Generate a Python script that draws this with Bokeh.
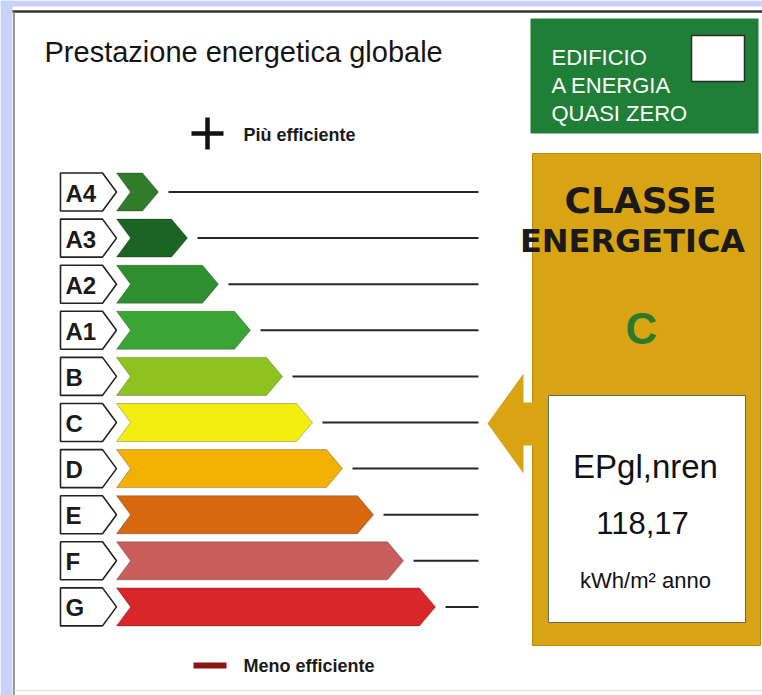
from bokeh.plotting import figure
from bokeh.models import Range1d
from bokeh.core.properties import value
from bokeh.embed import file_html
from bokeh.resources import INLINE

# ---- data ----
classes = ["A4", "A3", "A2", "A1", "B", "C", "D", "E", "F", "G"]
bar_lengths = [42, 71, 102, 134, 166, 196, 226, 257, 287, 319]
bar_colors = ["#2f7d2a", "#1c6424", "#2e8f30", "#3aa534", "#8dc21f",
              "#f4ee10", "#f4b000", "#d8680f", "#c95d5b", "#d9262b"]
rating = "C"
ep_label = "EPgl,nren"
ep_value = "118,17"
ep_unit = "kWh/m\u00b2 anno"
title = "Prestazione energetica globale"
nzeb_lines = ["EDIFICIO", "A ENERGIA", "QUASI ZERO"]
top_note = "Più efficiente"
bottom_note = "Meno efficiente"

# ---- layout constants (pixel-like data units) ----
ROW0, STEP, HALF = 191.5, 46.1, 19.0
BAR_X0, NOTCH, TIP = 116.0, 14.0, 16.0
BOX_X0, BOX_X1, BOX_TIP = 60.0, 102.0, 116.0
LINE_END = 478.0
BLUE = "#c8d2fa"
GOLD = "#d9a414"
GREEN = "#1f7f37"
F = value("Liberation Sans")
W, H = 762, 695

p = figure(width=W, height=H, x_range=Range1d(0, W), y_range=Range1d(H, 0),
           output_backend="svg", toolbar_location=None, min_border=0,
           background_fill_color="white", border_fill_color="white", outline_line_color=None)
p.axis.visible = False
p.grid.visible = False

# frame
p.quad(left=0, right=12, top=0, bottom=H, fill_color=BLUE, line_color=None)
p.quad(left=0, right=W, top=0, bottom=6, fill_color=BLUE, line_color=None)
p.segment(x0=12, y0=11, x1=W, y1=11, line_color="#333333", line_width=2.5)
p.segment(x0=13.5, y0=11, x1=13.5, y1=H, line_color="#777777", line_width=1.5)
p.segment(x0=14, y0=690, x1=W, y1=690, line_color="#e4e4e4", line_width=1.5)

# title
p.text(x=[44], y=[51], text=[title], text_font=F, text_font_size="29px",
       text_color="#151515", text_baseline="alphabetic")

# rows
yc = [ROW0 + i * STEP for i in range(len(classes))]
tips = [BAR_X0 + L for L in bar_lengths]
box_xs = [[BOX_X0, BOX_X1, BOX_TIP, BOX_X1, BOX_X0] for _ in yc]
box_ys = [[y - HALF, y - HALF, y, y + HALF, y + HALF] for y in yc]
p.patches(box_xs, box_ys, fill_color="white", line_color="#222222", line_width=1.6)
bar_xs = [[BAR_X0, t - TIP, t, t - TIP, BAR_X0, BAR_X0 + NOTCH] for t in tips]
bar_ys = [[y - HALF, y - HALF, y, y + HALF, y + HALF, y] for y in yc]
p.patches(bar_xs, bar_ys, fill_color=bar_colors, line_color="#000000", line_alpha=0.25, line_width=1)
p.segment(x0=[t + 10 for t in tips], y0=yc, x1=[LINE_END] * len(yc), y1=yc,
          line_color="#262626", line_width=2)
p.text(x=[BOX_X0 + 5] * len(yc), y=[y + 1 for y in yc], text=classes, text_font=F,
       text_font_style="bold", text_font_size="24px", text_color="#1a1a1a",
       text_baseline="middle")

# efficiency notes
p.scatter(x=[207], y=[133], marker="cross", size=32, line_width=4.5, line_color="#111111")
p.text(x=[243], y=[134], text=[top_note], text_font=F, text_font_style="bold",
       text_font_size="18px", text_color="#1a1a1a", text_baseline="middle")
p.segment(x0=193, y0=665, x1=226, y1=665, line_color="#8b1414", line_width=6)
p.text(x=[243], y=[665], text=[bottom_note], text_font=F, text_font_style="bold",
       text_font_size="18px", text_color="#1a1a1a", text_baseline="middle")

# nZEB box
p.quad(left=530, right=758, top=18, bottom=133, fill_color=GREEN, line_color=None)
p.quad(left=691, right=744, top=35, bottom=81, fill_color="white", line_color="#2a2a2a", line_width=1.5)
p.text(x=[551] * 3, y=[57, 85, 113], text=nzeb_lines, text_font=F,
       text_font_size="22px", text_color="white", text_baseline="alphabetic")

# class box
p.quad(left=532, right=760, top=153, bottom=645, fill_color=GOLD, line_color="#b98a0c", line_width=1)
arrow_x = [487, 523, 523, 549, 549, 523, 523]
arrow_y = [423, 373, 402, 402, 445, 445, 473]
p.patch(arrow_x, arrow_y, fill_color=GOLD, line_color=None)
p.text(x=[640], y=[200], text=["CLASSE"], text_font=value("DejaVu Sans"), text_font_style="bold",
       text_font_size="36px", text_color="#1a1a1a", text_align="center", text_baseline="middle")
p.text(x=[632], y=[240], text=["ENERGETICA"], text_font=value("DejaVu Sans"), text_font_style="bold",
       text_font_size="32px", text_color="#1a1a1a", text_align="center", text_baseline="middle")
p.text(x=[641], y=[328], text=[rating], text_font=F, text_font_style="bold",
       text_font_size="44px", text_color="#2b7a2b", text_align="center", text_baseline="middle")

# value box
p.quad(left=548, right=745, top=395, bottom=622, fill_color="white", line_color="#666666", line_width=1)
p.text(x=[645], y=[466], text=[ep_label], text_font=F, text_font_size="33px",
       text_color="#111111", text_align="center", text_baseline="middle")
p.text(x=[642], y=[522], text=[ep_value], text_font=F, text_font_size="31px",
       text_color="#111111", text_align="center", text_baseline="middle")
p.text(x=[645], y=[580], text=[ep_unit], text_font=F, text_font_size="22px",
       text_color="#111111", text_align="center", text_baseline="middle")

open("out.html", "w").write(file_html(p, INLINE))
